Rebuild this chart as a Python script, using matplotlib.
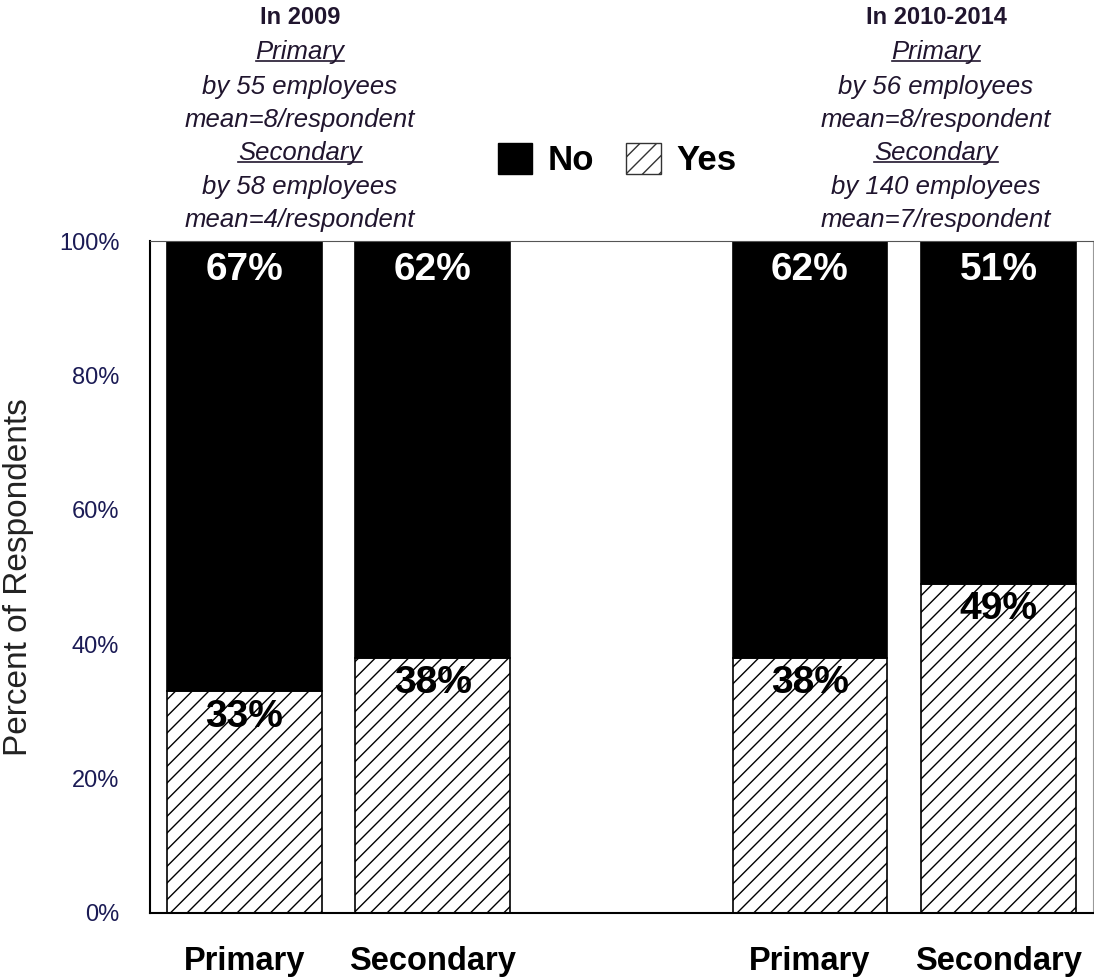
import matplotlib
matplotlib.use("Agg")
import matplotlib.pyplot as plt
from matplotlib.patches import Patch
from matplotlib.lines import Line2D

plt.rcParams['font.family'] = ['Liberation Sans', 'DejaVu Sans']
plt.rcParams['hatch.linewidth'] = 1.0
plt.rcParams['hatch.color'] = '#222222'

# survey results, percent of respondents
positions = [0, 1, 3, 4]
groups = ["Primary", "Secondary", "Primary", "Secondary"]
yes_pct = [33, 38, 38, 49]
no_pct = [67, 62, 62, 51]

headers = [
    ["In 2009", "Primary", "by 55 employees", "mean=8/respondent",
     "Secondary", "by 58 employees", "mean=4/respondent"],
    ["In 2010-2014", "Primary", "by 56 employees", "mean=8/respondent",
     "Secondary", "by 140 employees", "mean=7/respondent"],
]

fig = plt.figure(figsize=(10.94, 9.80), dpi=100)
ax = fig.add_axes([0.137, 0.0684, 0.862, 0.6856])

ax.bar(positions, yes_pct, width=0.82, color='white', edgecolor='black',
       hatch='//', linewidth=1.2)
ax.bar(positions, no_pct, width=0.82, bottom=yes_pct, color='black',
       edgecolor='black', linewidth=1.2)

for x, y, n in zip(positions, yes_pct, no_pct):
    ax.text(x, y + n - 4.3, f"{n}%", ha='center', va='center', color='white',
            fontsize=28, fontweight='bold')
    ax.text(x, y - 3.8, f"{y}%", ha='center', va='center', color='black',
            fontsize=28, fontweight='semibold')

ax.set_xlim(-0.5, 4.5)
ax.set_ylim(0, 100)
ax.set_yticks([0, 20, 40, 60, 80, 100])
ax.set_yticklabels([f"{v}%" for v in range(0, 101, 20)])
ax.set_xticks(positions)
ax.set_xticklabels(groups, fontsize=23.5, fontweight='bold')
ax.tick_params(axis='y', length=0, pad=22, labelsize=17, labelcolor='#1b1b55')
ax.tick_params(axis='x', length=0, pad=24)
ax.set_ylabel("Percent of Respondents", fontsize=24, color='#222222', labelpad=18)
for side in ['left', 'bottom']:
    ax.spines[side].set_linewidth(1.5)
ax.spines['top'].set_color('#555555')
ax.spines['right'].set_color('#999999')

# legend
handles = [Patch(facecolor='black', edgecolor='black'),
           Patch(facecolor='white', edgecolor='#333333', hatch='//')]
fig.legend(handles, ["No", "Yes"], loc='center', ncol=2, frameon=False,
           bbox_to_anchor=(617 / 1094, 1 - 160 / 980),
           prop={'size': 25, 'weight': 'bold'},
           handlelength=1.0, handleheight=1.0, handletextpad=0.45,
           columnspacing=0.9)

# header notes above each year group
line_y = [17, 52, 87, 120, 153, 187, 220]
centers = [300, 936]
underlined = []
for cx, lines in zip(centers, headers):
    for i, (txt, py) in enumerate(zip(lines, line_y)):
        if i == 0:
            t = fig.text(cx / 1094, 1 - py / 980, txt, ha='center', va='center',
                         fontsize=17, fontweight='bold', color='#20152e')
        else:
            t = fig.text(cx / 1094, 1 - py / 980, txt, ha='center', va='center',
                         fontsize=18.5, style='italic', color='#20152e')
            if txt in ("Primary", "Secondary"):
                underlined.append(t)

fig.canvas.draw()
renderer = fig.canvas.get_renderer()
inv = fig.transFigure.inverted()
for t in underlined:
    bb = t.get_window_extent(renderer)
    (x0, y0), (x1, _) = inv.transform([[bb.x0, bb.y0 + 3], [bb.x1, bb.y0 + 3]])
    fig.add_artist(Line2D([x0, x1], [y0, y0], transform=fig.transFigure,
                          color='#20152e', linewidth=1.2))

fig.savefig("out.png", dpi=100)
